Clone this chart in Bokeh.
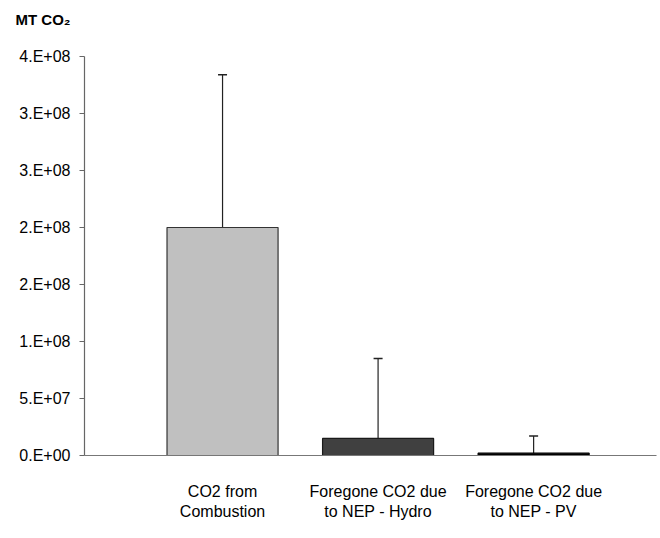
from bokeh.plotting import figure
from bokeh.models import (Range1d, FixedTicker, Whisker, TeeHead, ColumnDataSource, Title)
from bokeh.embed import file_html
from bokeh.resources import INLINE

# Data
categories = ["CO2 from\nCombustion", "Foregone CO2 due\nto NEP - Hydro", "Foregone CO2 due\nto NEP - PV"]
positions = [1, 2, 3]
values = [2.0e8, 1.5e7, 2.0e6]
errors = [1.34e8, 7.0e7, 1.5e7]
y_ticks = [0, 5e7, 1e8, 1.5e8, 2e8, 2.5e8, 3e8, 3.5e8]
y_tick_labels = ["0.E+00", "5.E+07", "1.E+08", "2.E+08", "2.E+08", "3.E+08", "3.E+08", "4.E+08"]
unit_label = "MT CO\u2082"

bar_fill = ["#C0C0C0", "#404040", "#000000"]
bar_line = ["#333333", "#1a1a1a", "#000000"]

FONT = "Liberation Sans"

p = figure(width=660, height=538, output_backend="svg", toolbar_location=None,
           x_range=Range1d(0.1125, 3.79), y_range=Range1d(0, 3.5e8),
           min_border_left=84, min_border_right=4, min_border_top=56, min_border_bottom=83,
           title=unit_label)
p.outline_line_color = None
p.grid.grid_line_color = None
p.background_fill_color = "white"
p.border_fill_color = "white"

# Unit label in the top-left corner (outermost row above the frame)
p.title.align = "left"
p.title.vertical_align = "top"
p.title.offset = -69
p.title.text_font = FONT
p.title.text_font_style = "bold"
p.title.text_font_size = "15px"
p.title.text_color = "#000000"

# Blank row between the unit label and the frame
p.add_layout(Title(text=" ", text_font_size="18px", standoff=0), "above")

upper = [v + e for v, e in zip(values, errors)]
src = ColumnDataSource(dict(x=positions, top=values, upper=upper,
                            fill=bar_fill, line=bar_line))

p.vbar(x="x", top="top", bottom=0, width=0.714, source=src,
       fill_color="fill", line_color="line", line_width=1.2)

whisker = Whisker(base="x", lower="top", upper="upper", source=src,
                  line_color="#222222", line_width=1.2,
                  upper_head=TeeHead(size=9, line_color="#222222", line_width=1.5),
                  lower_head=None)
p.add_layout(whisker)

# Y axis
ya = p.yaxis[0]
ya.ticker = FixedTicker(ticks=y_ticks)
ya.major_label_overrides = {t: s for t, s in zip(y_ticks, y_tick_labels)}
ya.axis_line_color = "#666666"
ya.axis_line_width = 1.2
ya.major_tick_line_color = "#666666"
ya.major_tick_out = 5
ya.major_tick_in = 0
ya.minor_tick_line_color = None
ya.major_label_text_font = FONT
ya.major_label_text_font_size = "16px"
ya.major_label_text_color = "#000000"
ya.major_label_standoff = 9

# X axis
xa = p.xaxis[0]
xa.ticker = FixedTicker(ticks=positions)
xa.major_label_overrides = {x: c for x, c in zip(positions, categories)}
xa.axis_line_color = "#777777"
xa.axis_line_width = 1.2
xa.major_tick_line_color = None
xa.minor_tick_line_color = None
xa.major_label_text_font = FONT
xa.major_label_text_font_size = "16px"
xa.major_label_text_color = "#000000"
xa.major_label_standoff = 21

open("out.html", "w").write(file_html(p, INLINE))
